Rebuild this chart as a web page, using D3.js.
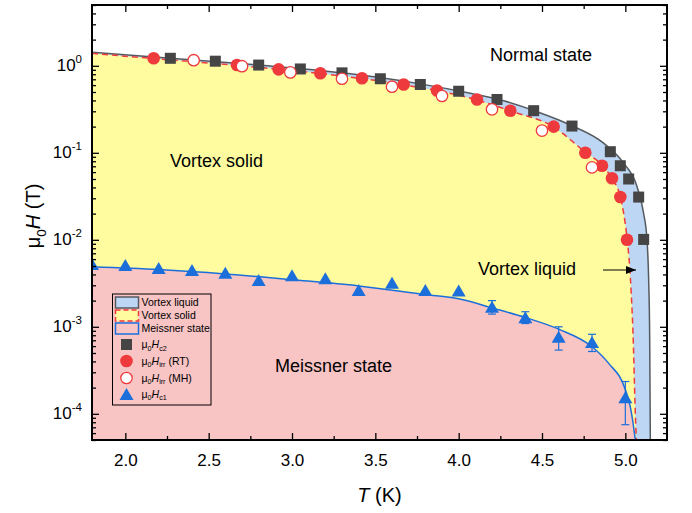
<!DOCTYPE html>
<html>
<head>
<meta charset="utf-8">
<script src="https://cdn.jsdelivr.net/npm/d3@7/dist/d3.min.js"></script>
<style>
  body { margin: 0; background: #fff; }
  svg text { font-family: "Liberation Sans", Arial, sans-serif; fill: #000; }
</style>
</head>
<body>
<svg id="chart" width="692" height="513"></svg>
<script>
// ---- measured points ----
// upper critical field, mu0 Hc2 (T)
const hc2T = [2.27, 2.54, 2.80, 3.05, 3.30, 3.53, 3.77, 4.00, 4.23, 4.45, 4.68, 4.91, 4.97, 5.02, 5.08, 5.11];
const hc2H = [1.22, 1.13, 1.02, 0.92, 0.83, 0.71, 0.61, 0.51, 0.41, 0.305, 0.203, 0.103, 0.071, 0.050, 0.031, 0.0101];

// irreversibility field from R(T)
const irrRtT = [2.17, 2.67, 2.92, 3.17, 3.42, 3.67, 3.87, 4.11, 4.31, 4.57, 4.76, 4.86, 4.92, 4.97, 5.01];
const irrRtH = [1.22, 1.02, 0.91, 0.82, 0.72, 0.61, 0.52, 0.41, 0.305, 0.20, 0.10, 0.071, 0.051, 0.031, 0.010];

// irreversibility field from M(H)
const irrMhT = [2.41, 2.70, 2.99, 3.30, 3.60, 3.90, 4.20, 4.50, 4.80];
const irrMhH = [1.16, 0.99, 0.84, 0.71, 0.575, 0.45, 0.316, 0.18, 0.068];

// lower critical field, mu0 Hc1 (T), with error
const hc1T   = [1.8, 2.0, 2.2, 2.4, 2.6, 2.8, 3.0, 3.2, 3.4, 3.6, 3.8, 4.0, 4.2, 4.4, 4.6, 4.8, 5.0];
const hc1H   = [0.00527, 0.00513, 0.00474, 0.00450, 0.00419, 0.00345, 0.00391, 0.00361, 0.00265, 0.00321, 0.00265, 0.00261, 0.00170, 0.00129, 0.00077, 0.00067, 0.000155];
const hc1Err = [0, 0, 0, 0, 0, 0, 0, 0, 0, 0, 0, 0, 0.0003, 0.0002, 0.00023, 0.00015, 0.00008];

// ---- phase boundaries ----
const hc2LineT = [1.8, 2.27, 2.8, 3.3, 3.77, 4.07, 4.27, 4.47, 4.67, 4.87, 4.99, 5.07, 5.11, 5.13, 5.14, 5.146, 5.15];
const hc2LineH = [1.43, 1.22, 1.02, 0.83, 0.62, 0.483, 0.397, 0.297, 0.209, 0.129, 0.076, 0.041, 0.020, 0.0100, 0.00345, 0.0008, 0.00005];

const irrLineT = [1.8, 2.17, 2.67, 3.17, 3.67, 4.11, 4.31, 4.57, 4.764, 4.864, 4.918, 4.97, 5.01, 5.026, 5.035, 5.046, 5.06, 5.066];
const irrLineH = [1.39, 1.21, 1.01, 0.815, 0.605, 0.405, 0.303, 0.198, 0.1, 0.071, 0.051, 0.031, 0.0105, 0.0049, 0.0025, 0.00085, 0.0001, 0.00005];

const hc1LineT = [1.8, 2.2, 2.6, 3.0, 3.4, 3.8, 4.0, 4.2, 4.4, 4.6, 4.8, 4.9, 5.0, 5.03, 5.05, 5.06];
const hc1LineH = [0.0049, 0.00455, 0.00405, 0.00348, 0.00295, 0.00235, 0.0021, 0.00165, 0.00128, 0.00094, 0.00059, 0.00038, 0.00019, 0.00012, 0.00007, 0.00005];

// ---- axis ticks ----
const xMajor = [2.0, 2.5, 3.0, 3.5, 4.0, 4.5, 5.0];
const xTickLabels = ["2.0", "2.5", "3.0", "3.5", "4.0", "4.5", "5.0"];
const xMinor = [2.25, 2.75, 3.25, 3.75, 4.25, 4.75];
const yExponents = [-4, -3, -2, -1, 0];

// ---- legend ----
const legendAreas = ["Vortex liquid", "Vortex solid", "Meissner state"];

const colors = {
  liquid: "#bcd6f3", solid: "#fefc9f", meissner: "#f8c4c4",
  hc2: "#454545", irr: "#ee3a3c", hc1: "#1c6fdb", hc2Line: "#555a60"
};

const svg = d3.select("#chart");
const L = 92, R = 667, T = 5, B = 440;
const x = d3.scaleLinear().domain([1.8, 5.25]).range([L, R]);
const y = d3.scaleLog().domain([5e-5, 5]).range([B, T]);

svg.append("defs").append("clipPath").attr("id", "plotClip")
  .append("rect").attr("x", L).attr("y", T).attr("width", R - L).attr("height", B - T);

const zip = (ts, hs) => ts.map((t, i) => ({ T: t, H: hs[i] }));
const hc2Line = zip(hc2LineT, hc2LineH);
const irrLine = zip(irrLineT, irrLineH);
const hc1Line = zip(hc1LineT, hc1LineH);

const plot = svg.append("g").attr("clip-path", "url(#plotClip)");

const area = d3.area().x(d => x(d.T)).y0(B).y1(d => y(d.H)).curve(d3.curveMonotoneX);
const line = d3.line().x(d => x(d.T)).y(d => y(d.H)).curve(d3.curveMonotoneX);

// filled phase regions
plot.append("path").datum(hc2Line).attr("d", area).attr("fill", colors.liquid);
plot.append("path").datum(irrLine).attr("d", area).attr("fill", colors.solid);
plot.append("path").datum(hc1Line).attr("d", area).attr("fill", colors.meissner);

// boundary curves
plot.append("path").datum(hc2Line).attr("d", line)
  .attr("fill", "none").attr("stroke", colors.hc2Line).attr("stroke-width", 1.5);
plot.append("path").datum(irrLine).attr("d", line)
  .attr("fill", "none").attr("stroke", colors.irr).attr("stroke-width", 1.5).attr("stroke-dasharray", "6,4");
plot.append("path").datum(hc1Line).attr("d", line)
  .attr("fill", "none").attr("stroke", colors.hc1).attr("stroke-width", 1.5);

// marker shapes
const sq = 11, rc = 6.3, triW = 14, triH = 12;
const triPath = `M0,${-triH / 2}L${triW / 2},${triH / 2}L${-triW / 2},${triH / 2}Z`;

// Hc2 squares
plot.append("g").selectAll("rect").data(zip(hc2T, hc2H)).join("rect")
  .attr("x", d => x(d.T) - sq / 2).attr("y", d => y(d.H) - sq / 2)
  .attr("width", sq).attr("height", sq).attr("fill", colors.hc2);

// Hirr (RT) filled circles
plot.append("g").selectAll("circle").data(zip(irrRtT, irrRtH)).join("circle")
  .attr("cx", d => x(d.T)).attr("cy", d => y(d.H)).attr("r", rc).attr("fill", colors.irr);

// Hirr (MH) open circles
plot.append("g").selectAll("circle").data(zip(irrMhT, irrMhH)).join("circle")
  .attr("cx", d => x(d.T)).attr("cy", d => y(d.H)).attr("r", rc - 0.6)
  .attr("fill", "#fff").attr("stroke", colors.irr).attr("stroke-width", 1.3);

// Hc1 error bars and triangles
const hc1Data = hc1T.map((t, i) => ({ T: t, H: hc1H[i], e: hc1Err[i] }));
const eb = plot.append("g").attr("stroke", colors.hc1).attr("stroke-width", 1.2);
hc1Data.filter(d => d.e > 0).forEach(d => {
  const cx = x(d.T), y1 = y(d.H + d.e), y2 = y(d.H - d.e);
  eb.append("line").attr("x1", cx).attr("x2", cx).attr("y1", y1).attr("y2", y2);
  eb.append("line").attr("x1", cx - 4).attr("x2", cx + 4).attr("y1", y1).attr("y2", y1);
  eb.append("line").attr("x1", cx - 4).attr("x2", cx + 4).attr("y1", y2).attr("y2", y2);
});
plot.append("g").selectAll("path").data(hc1Data).join("path")
  .attr("d", triPath).attr("transform", d => `translate(${x(d.T)},${y(d.H)})`)
  .attr("fill", colors.hc1);

// ---- axes ----
const tickFont = 17;
function styleAxis(g) {
  g.select(".domain").remove();
  g.selectAll(".tick line").attr("stroke", "#000").attr("stroke-width", 1.3);
}
svg.append("g").attr("transform", `translate(0,${B})`)
  .call(d3.axisBottom(x).tickValues(xMajor).tickSize(-7).tickPadding(14)
    .tickFormat((d, i) => xTickLabels[i]))
  .call(styleAxis)
  .call(g => g.selectAll("text").attr("font-size", tickFont));
svg.append("g").attr("transform", `translate(0,${B})`)
  .call(d3.axisBottom(x).tickValues(xMinor).tickSize(-4).tickFormat(""))
  .call(styleAxis);
svg.append("g").attr("transform", `translate(0,${T})`)
  .call(d3.axisTop(x).tickValues(xMajor).tickSize(-7).tickFormat(""))
  .call(styleAxis);
svg.append("g").attr("transform", `translate(0,${T})`)
  .call(d3.axisTop(x).tickValues(xMinor).tickSize(-4).tickFormat(""))
  .call(styleAxis);

const yMajor = yExponents.map(e => Math.pow(10, e));
const yMinor = y.ticks().filter(v => {
  const m = v / Math.pow(10, Math.floor(Math.log10(v) + 1e-9));
  return Math.abs(m - 1) > 1e-6;
});
svg.append("g").attr("transform", `translate(${L},0)`)
  .call(d3.axisLeft(y).tickValues(yMajor).tickSize(-7).tickPadding(10).tickFormat(""))
  .call(styleAxis)
  .call(g => g.selectAll(".tick text").each(function (d, i) {
    const t = d3.select(this).attr("font-size", tickFont).attr("dy", "0.3em");
    t.append("tspan").text("10");
    t.append("tspan").attr("font-size", 11.5).attr("dy", "-0.75em").text(String(yExponents[i]));
  }));
svg.append("g").attr("transform", `translate(${L},0)`)
  .call(d3.axisLeft(y).tickValues(yMinor).tickSize(-4).tickFormat(""))
  .call(styleAxis);
svg.append("g").attr("transform", `translate(${R},0)`)
  .call(d3.axisRight(y).tickValues(yMajor).tickSize(-7).tickFormat(""))
  .call(styleAxis);
svg.append("g").attr("transform", `translate(${R},0)`)
  .call(d3.axisRight(y).tickValues(yMinor).tickSize(-4).tickFormat(""))
  .call(styleAxis);

svg.append("rect").attr("x", L).attr("y", T).attr("width", R - L).attr("height", B - T)
  .attr("fill", "none").attr("stroke", "#000").attr("stroke-width", 2);

// rich-text helper: parts with optional sub / italic
function rich(sel, parts, size) {
  let shifted = 0;
  parts.forEach(p => {
    const ts = sel.append("tspan").text(p.t);
    if (p.it) ts.attr("font-style", "italic");
    if (p.sub) {
      const dy = size * 0.28;
      ts.attr("font-size", size * 0.68).attr("dy", dy - shifted);
      shifted = dy;
    } else if (shifted) {
      ts.attr("dy", -shifted);
      shifted = 0;
    }
  });
}

// axis titles
const xt = svg.append("text").attr("x", (L + R) / 2).attr("y", 502)
  .attr("text-anchor", "middle").attr("font-size", 20);
rich(xt, [{ t: "T", it: true }, { t: " (K)" }], 20);

const yt = svg.append("text").attr("transform", "translate(40,216) rotate(-90)")
  .attr("text-anchor", "middle").attr("font-size", 20);
rich(yt, [{ t: "μ" }, { t: "0", sub: true }, { t: "H", it: true }, { t: " (T)" }], 20);

// region annotations
const annFont = 18;
svg.append("text").attr("x", 490).attr("y", 61).attr("font-size", annFont).text("Normal state");
svg.append("text").attr("x", 170).attr("y", 167).attr("font-size", annFont).text("Vortex solid");
svg.append("text").attr("x", 478).attr("y", 275).attr("font-size", annFont).text("Vortex liquid");
svg.append("text").attr("x", 275).attr("y", 372).attr("font-size", annFont).text("Meissner state");

svg.append("defs").append("marker").attr("id", "arrowHead")
  .attr("viewBox", "0 0 10 8").attr("refX", 10).attr("refY", 4)
  .attr("markerWidth", 10).attr("markerHeight", 8).attr("markerUnits", "userSpaceOnUse")
  .attr("orient", "auto")
  .append("path").attr("d", "M0,0L10,4L0,8Z").attr("fill", "#000");
svg.append("line").attr("x1", 603).attr("x2", 636).attr("y1", 270).attr("y2", 270)
  .attr("stroke", "#000").attr("stroke-width", 1).attr("marker-end", "url(#arrowHead)");

// ---- legend ----
const lg = svg.append("g");
const lgFont = 10.5;
lg.append("rect").attr("x", 112.5).attr("y", 294).attr("width", 98.5).attr("height", 111)
  .attr("fill", "none").attr("stroke", "#000").attr("stroke-width", 1);

const areaStyles = [
  { fill: colors.liquid, stroke: colors.hc2Line, dash: null },
  { fill: colors.solid, stroke: colors.irr, dash: "5,3" },
  { fill: colors.meissner, stroke: colors.hc1, dash: null }
];
const areaRows = [302.5, 315.5, 328.5];
legendAreas.forEach((name, i) => {
  const cy = areaRows[i];
  lg.append("rect").attr("x", 115.5).attr("y", cy - 5.5).attr("width", 23).attr("height", 11)
    .attr("fill", areaStyles[i].fill).attr("stroke", areaStyles[i].stroke)
    .attr("stroke-width", 1.5).attr("stroke-dasharray", areaStyles[i].dash);
  lg.append("text").attr("x", 141.5).attr("y", cy + 3.8).attr("font-size", lgFont).text(name);
});

const markerRows = [344.5, 361, 378, 394];
const mx = 126.5;
lg.append("rect").attr("x", mx - sq / 2).attr("y", markerRows[0] - sq / 2)
  .attr("width", sq).attr("height", sq).attr("fill", colors.hc2);
lg.append("circle").attr("cx", mx).attr("cy", markerRows[1]).attr("r", rc).attr("fill", colors.irr);
lg.append("circle").attr("cx", mx).attr("cy", markerRows[2]).attr("r", rc - 0.6)
  .attr("fill", "#fff").attr("stroke", colors.irr).attr("stroke-width", 1.3);
lg.append("path").attr("d", triPath).attr("transform", `translate(${mx},${markerRows[3]})`)
  .attr("fill", colors.hc1);

const markerLabels = [
  [{ t: "μ" }, { t: "0", sub: true }, { t: "H", it: true }, { t: "c2", sub: true }],
  [{ t: "μ" }, { t: "0", sub: true }, { t: "H", it: true }, { t: "irr", sub: true }, { t: " (RT)" }],
  [{ t: "μ" }, { t: "0", sub: true }, { t: "H", it: true }, { t: "irr", sub: true }, { t: " (MH)" }],
  [{ t: "μ" }, { t: "0", sub: true }, { t: "H", it: true }, { t: "c1", sub: true }]
];
markerLabels.forEach((parts, i) => {
  const t = lg.append("text").attr("x", 141.5).attr("y", markerRows[i] + 3.5).attr("font-size", lgFont);
  rich(t, parts, lgFont);
});
</script>
</body>
</html>
